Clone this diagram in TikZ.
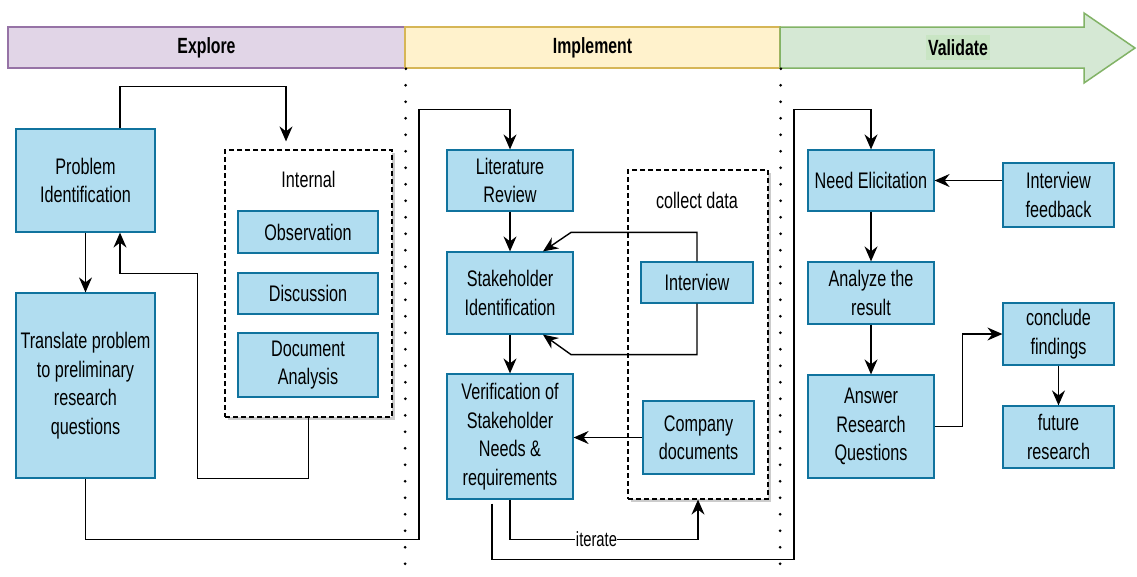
\documentclass[tikz,border=0pt]{standalone}
\usepackage{fontspec}
\setmainfont[FakeStretch=0.72]{Liberation Sans}
\usetikzlibrary{arrows.meta,shadows}
\definecolor{boxfill}{HTML}{B1DDF0}
\definecolor{boxline}{HTML}{10739E}
\definecolor{expfill}{HTML}{E1D5E7}
\definecolor{expline}{HTML}{9673A6}
\definecolor{impfill}{HTML}{FFF2CC}
\definecolor{impline}{HTML}{D6B656}
\definecolor{valfill}{HTML}{D5E8D4}
\definecolor{valline}{HTML}{82B366}
\definecolor{vallabel}{HTML}{C9E5C4}
\tikzset{
  txt/.style={font=\fontsize{22.5}{28.5}\selectfont},
  bluebox/.style={txt, draw=boxline, fill=boxfill, line width=1.2pt, inner sep=0pt, align=center},
  groupbox/.style={draw=black, dashed, dash pattern=on 5pt off 3pt, line width=1.2pt, fill=white, inner sep=0pt,
     drop shadow={shadow xshift=3pt, shadow yshift=-3pt, opacity=0.2, fill=black}},
  phase/.style={line width=1.5pt, inner sep=0pt, font=\fontsize{22}{26}\selectfont\bfseries},
  arr/.style={draw=black, line width=1.4pt, -{Stealth[length=15pt,width=13pt,inset=5pt]}},
  dotline/.style={draw=black, line width=3pt, line cap=round, dash pattern=on 0pt off 16.5pt},
}
\begin{document}
\begin{tikzpicture}[x=1pt,y=-1pt]
\useasboundingbox (0,0) rectangle (1137,576);
\fill[white] (0,0) rectangle (1137,576);

% phase band
\node[phase, draw=expline, fill=expfill, minimum width=397, minimum height=41] (explore) at (206.5,47.5) {Explore};
\node[phase, draw=impline, fill=impfill, minimum width=375, minimum height=41] (implement) at (592.5,47.5) {Implement};
\path[draw=valline, fill=valfill, line width=1.5pt] (780,27) -- (1084,27) -- (1084,13) -- (1135,48) -- (1084,83) -- (1084,68) -- (780,68) -- cycle;
\node[phase, fill=vallabel, inner xsep=2pt, inner ysep=4pt] (validate) at (958,47.5) {Validate};

% dotted separators
\coordinate (d1) at (405,576);
\coordinate (d2) at (780,576);
\draw[dotline] (explore.south east) -- (d1);
\draw[dotline] (implement.south east) -- (d2);

% Explore
\node[bluebox, minimum width=139, minimum height=103] (pi) at (85.5,180.5) {Problem\\Identification};
\node[bluebox, minimum width=139, minimum height=185] (tr) at (85.5,385.5) {Translate problem\\to preliminary\\research\\questions};
\node[groupbox, minimum width=167, minimum height=267] (internal) at (308.5,283.5) {};
\node[txt] (internallbl) at (308.5,179) {Internal};
\node[bluebox, minimum width=140, minimum height=42] (obs) at (308,232) {Observation};
\node[bluebox, minimum width=140, minimum height=41] (disc) at (308,293.5) {Discussion};
\node[bluebox, minimum width=140, minimum height=64] (doc) at (308,365) {Document\\Analysis};

% Implement
\node[bluebox, minimum width=126, minimum height=61] (lr) at (510,180.5) {Literature\\Review};
\node[bluebox, minimum width=126, minimum height=82] (si) at (510,293) {Stakeholder\\Identification};
\node[bluebox, minimum width=126, minimum height=125] (ver) at (510,436.5) {Verification of\\Stakeholder\\Needs \&\\requirements};
\node[groupbox, minimum width=140, minimum height=329] (collect) at (698,334.5) {};
\node[txt] (collectlbl) at (697,200) {collect data};
\node[bluebox, minimum width=112, minimum height=41] (iv) at (697,282.5) {Interview};
\node[bluebox, minimum width=111, minimum height=73] (cd) at (698.5,437.5) {Company\\documents};

% Validate
\node[bluebox, minimum width=126, minimum height=61] (ne) at (871,180.5) {Need Elicitation};
\node[bluebox, minimum width=111, minimum height=64] (ifb) at (1058.5,195) {Interview\\feedback};
\node[bluebox, minimum width=126, minimum height=62] (an) at (871,293) {Analyze the\\result};
\node[bluebox, minimum width=126, minimum height=103] (ans) at (871,426.5) {Answer\\Research\\Questions};
\node[bluebox, minimum width=111, minimum height=62] (cf) at (1058.5,334) {conclude\\findings};
\node[bluebox, minimum width=111, minimum height=62] (fr) at (1058.5,437) {future\\research};

% connectors - Explore
\draw[arr, shorten >=8pt] ([xshift=34.5pt]pi.north) -- ++(0,-42) -| ([xshift=-22.5pt]internal.north);
\draw[arr] (pi) -- (tr);
\draw[arr] (internal.south) -- ++(0,61) -- ++(-111,0) -- ++(0,-205) -| ([xshift=34.5pt]pi.south);
\draw[arr] (tr.south) -- ++(0,61) -- ++(333.5,0) -- ++(0,-430) -| (lr.north);

% connectors - Implement
\draw[arr] (lr) -- (si);
\draw[arr] (iv.north) -- ++(0,-29) -- ++(-126,0) -- ([xshift=33pt]si.north);
\draw[arr] (iv.south) -- ++(0,51) -- ++(-126,0) -- ([xshift=33pt]si.south);
\draw[arr] (si) -- (ver);
\draw[arr] (cd.west) -- (cd.west -| ver.east);
\draw[arr] (ver.south) -- ++(0,40) -| node[pos=0.23, fill=white, inner sep=0.5pt, font=\fontsize{20.5}{22}\selectfont] (iterlbl) {iterate} (collect.south);
\draw[arr] ([xshift=-18pt,yshift=-4pt]ver.south) -- ++(0,56) -- ++(302,0) -- ++(0,-450) -| (ne.north);

% connectors - Validate
\draw[arr] (ifb.west |- ne) -- (ne.east);
\draw[arr] (ne) -- (an);
\draw[arr] (an) -- (ans);
\draw[arr] (ans.east) -- ++(28,0) |- (cf.west);
\draw[arr] (cf) -- (fr);
\end{tikzpicture}
\end{document}
